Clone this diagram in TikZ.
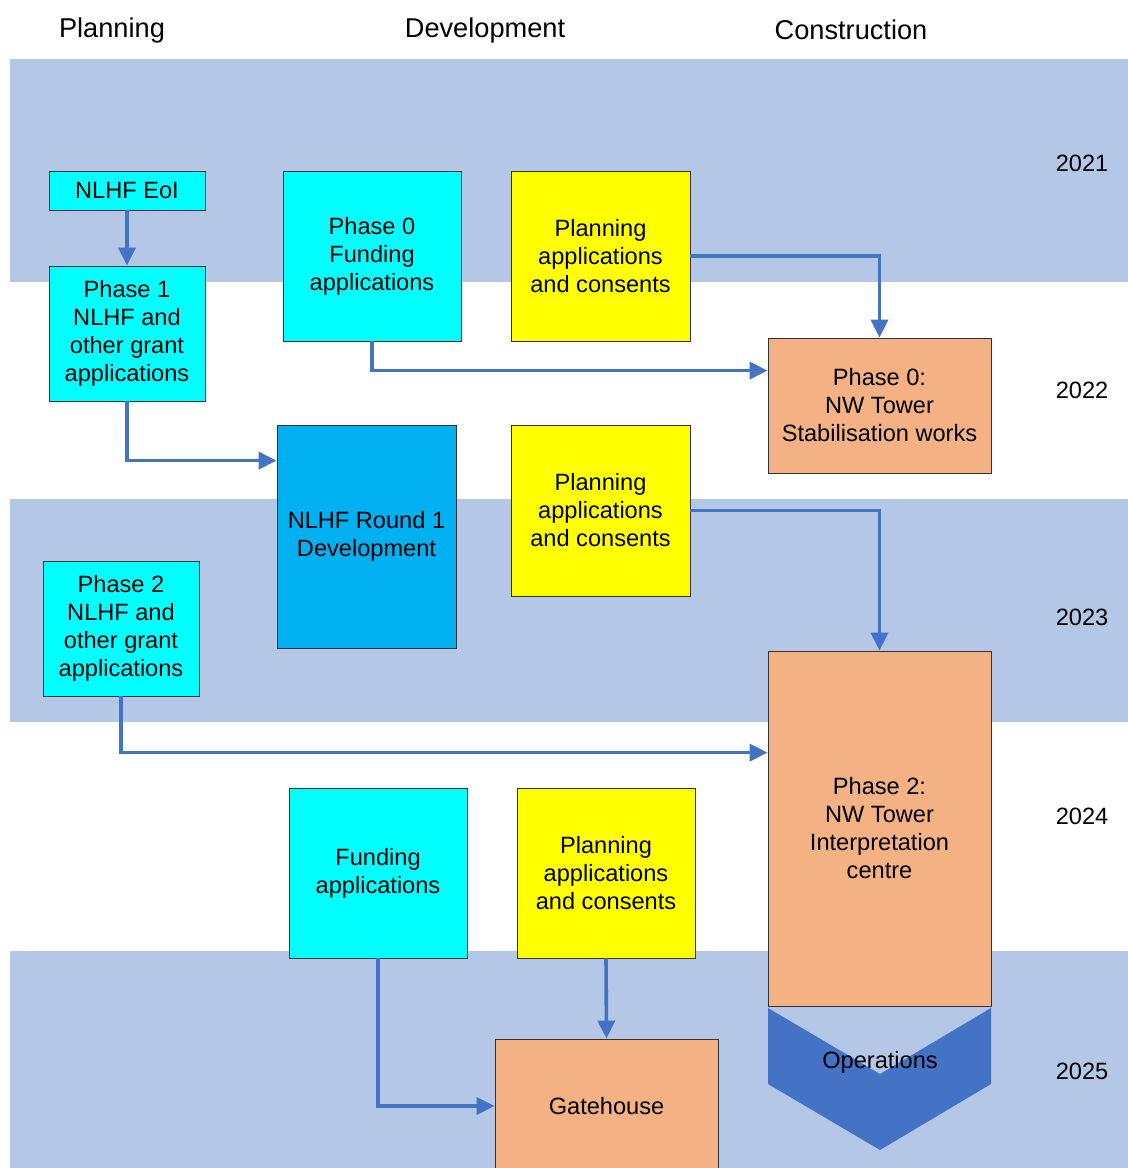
\documentclass[tikz,border=0pt]{standalone}
\usepackage{fontspec}
\setmainfont{Liberation Sans}
\usetikzlibrary{arrows.meta, positioning}

\definecolor{bandblue}{HTML}{B4C7E7}
\definecolor{arrowblue}{HTML}{4472C4}
\definecolor{boxorange}{HTML}{F4B183}
\definecolor{boxblue}{HTML}{00B0F0}
\definecolor{boxcyan}{HTML}{00FFFF}
\definecolor{boxyellow}{HTML}{FFFF00}

\begin{document}
\begin{tikzpicture}[
    x=0.5pt, y=-0.5pt,
    every node/.style={font=\fontsize{11.8}{14}\selectfont},
    head-label/.style={font=\fontsize{13.6}{16}\selectfont},
    task-box/.style={draw=black!80, line width=0.4pt, align=center, inner sep=0pt},
    cyan-box/.style={task-box, fill=boxcyan},
    yellow-box/.style={task-box, fill=boxyellow},
    orange-box/.style={task-box, fill=boxorange},
    flow/.style={draw=arrowblue, line width=1.8pt, -{Triangle[length=9pt, width=8.5pt]}}
  ]

  \useasboundingbox (0,0) rectangle (1128,1168);

  % year bands
  \fill[bandblue] (10,59) rectangle (1128,282);
  \fill[bandblue] (10,499) rectangle (1128,722);
  \fill[bandblue] (10,951) rectangle (1128,1168);

  % column headings
  \node[head-label] (hplan) at (112,30) {Planning};
  \node[head-label] (hdev) at (485,30) {Development};
  \node[head-label] (hcons) at (851,30) {Construction};

  % years
  \node (y21) at (1082,163) {2021};
  \node (y22) at (1082,390) {2022};
  \node (y23) at (1082,617) {2023};
  \node (y24) at (1082,816) {2024};
  \node (y25) at (1082,1071) {2025};

  % tasks
  \node[cyan-box, minimum width=78pt, minimum height=19.5pt] (eoi) at (127,190.5) {NLHF EoI};
  \node[cyan-box, minimum width=78pt, minimum height=67.5pt] (ph1) at (127,333.5) {Phase 1\\NLHF and\\other grant\\applications};
  \node[cyan-box, minimum width=89pt, minimum height=85pt] (ph0f) at (372,256) {Phase 0\\Funding\\applications};
  \node[yellow-box, minimum width=89.5pt, minimum height=85pt] (plan1) at (600.5,256) {Planning\\applications\\and consents};
  \node[orange-box, minimum width=111.5pt, minimum height=67.5pt] (nw0) at (879.5,405.5) {Phase 0:\\NW Tower\\Stabilisation works};
  \node[task-box, fill=boxblue, minimum width=89.5pt, minimum height=111.5pt] (rnd1) at (366.5,536.5) {NLHF Round 1\\Development};
  \node[yellow-box, minimum width=89.5pt, minimum height=85.5pt] (plan2) at (600.5,510.5) {Planning\\applications\\and consents};
  \node[cyan-box, minimum width=78pt, minimum height=67.5pt] (ph2) at (121,628.5) {Phase 2\\NLHF and\\other grant\\applications};
  \node[orange-box, minimum width=111.5pt, minimum height=177.5pt] (nw2) at (879.5,828.5) {Phase 2:\\NW Tower\\Interpretation\\centre};
  \node[cyan-box, minimum width=89pt, minimum height=85pt] (fund) at (378,873) {Funding\\applications};
  \node[yellow-box, minimum width=89pt, minimum height=85pt] (plan3) at (606,873) {Planning\\applications\\and consents};
  \node[orange-box, minimum width=111.5pt, minimum height=67pt] (gate) at (606.5,1106) {Gatehouse};

  % operations chevron
  \fill[arrowblue] (768,1008) -- (880,1074) -- (991,1008) -- (991,1084)
    -- (880,1150) -- (768,1084) -- cycle;
  \node (ops) at (880,1062) {Operations};

  % flows
  \draw[flow] (eoi.south) -- (ph1.north);
  \draw[flow] (plan1.east) -| (nw0.north);
  \draw[flow] (ph0f.south) |- ([yshift=-16.5pt]nw0.north west);
  \draw[flow] (ph1.south) |- ([yshift=-18pt]rnd1.north west);
  \draw[flow] (plan2.east) -| (nw2.north);
  \draw[flow] (ph2.south) |- ([yshift=-51pt]nw2.north west);
  \draw[flow] (fund.south) |- (gate.west);
  \draw[flow] (plan3.south) -- (gate.north);

\end{tikzpicture}
\end{document}
